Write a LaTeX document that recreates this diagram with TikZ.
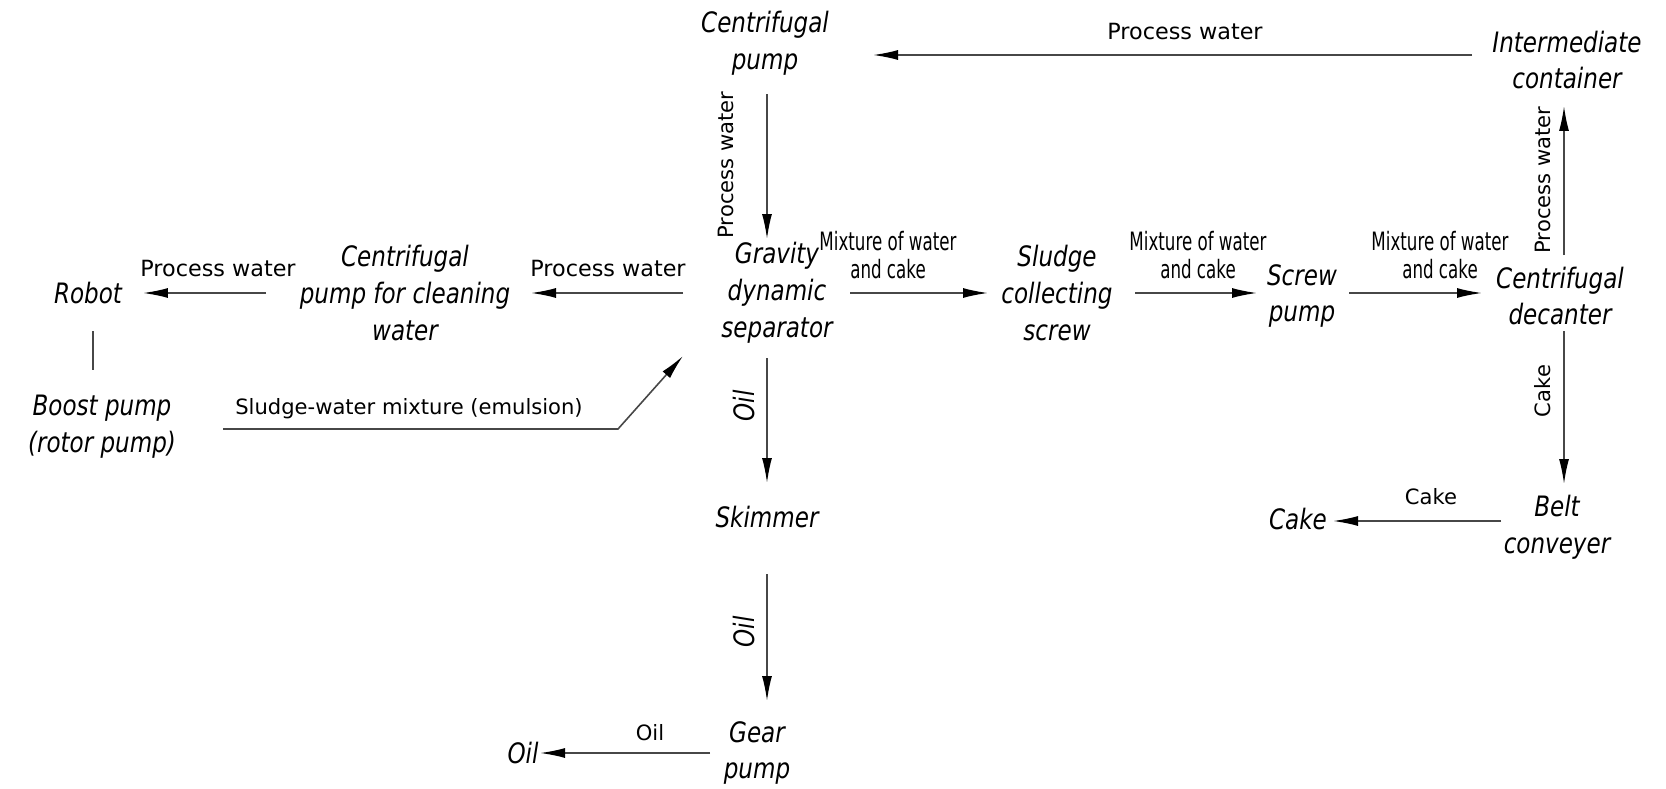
\documentclass[tikz,border=0pt]{standalone}
\usepackage{fontspec}
\setmainfont{DejaVu Sans}
\newfontfamily\unitfont{DejaVu Sans}[FakeStretch=0.82]
\newfontfamily\mixfont{DejaVu Sans}[FakeStretch=0.66]
\usetikzlibrary{arrows.meta,calc}

\begin{document}
\begin{tikzpicture}[x=0.02cm,y=-0.02cm,
  unit/.style={font=\unitfont\itshape\fontsize{16}{21}\selectfont, align=center, inner sep=0pt},
  lbl/.style={font=\fontsize{12}{16}\selectfont, align=center, inner sep=0pt},
  wlbl/.style={lbl, font=\fontsize{12.7}{16}\selectfont},
  mix/.style={lbl, font=\mixfont\fontsize{14.4}{15.5}\selectfont},
  flow/.style={draw=black!72, line width=0.9pt, -{Latex[length=5mm,width=2mm,color=black]}},
  link/.style={draw=black!72, line width=0.9pt}]
\useasboundingbox[fill=white] (0,0) rectangle (1666,788);

% units
\node[unit] (cpump)  at (765,43)   {Centrifugal\\pump};
\node[unit] (inter)  at (1567,60)  {Intermediate\\container};
\node[unit] (robot)  at (88,293)   {Robot};
\node[unit] (clean)  at (405,293)  {Centrifugal\\pump for cleaning\\water};
\node[unit] (grav)   at (777,293)  {Gravity\\dynamic\\separator};
\node[unit] (sludge) at (1057,293) {Sludge\\collecting\\screw};
\node[unit] (screw)  at (1302,296) {Screw\\pump};
\node[unit] (dec)    at (1560,296) {Centrifugal\\decanter};
\node[unit] (boost)  at (102,427)  {Boost pump\\(rotor pump)};
\node[unit] (skim)   at (767,517)  {Skimmer};
\node[unit] (belt)   at (1557,527) {Belt\\conveyer};
\node[unit] (cake)   at (1298,519) {Cake};
\node[unit] (gear)   at (757,753)  {Gear\\pump};
\node[unit] (oilout) at (523,753)  {Oil};

% water loop
\draw[flow] ($(inter)+(-95,-5)$) -- ($(cpump)+(108,12)$);
\draw[flow] ($(cpump)+(2,51)$) -- ($(grav)+(-10,-54)$);
\draw[flow] ($(grav)+(-94,0)$) -- ($(clean)+(126,0)$);
\draw[flow] ($(clean)+(-139,0)$) -- ($(robot)+(55,0)$);
\draw[link] ($(robot)+(5,38)$) -- ($(boost)+(-9,-57)$);
\draw[flow] ($(boost)+(121,2)$) -- ++(395,0) -- ($(grav)+(-94,63)$);
\draw[flow] ($(dec)+(4,-41)$) -- ($(inter)+(-3,46)$);

% sludge line
\draw[flow] ($(grav)+(73,0)$) -- ($(sludge)+(-69,0)$);
\draw[flow] ($(sludge)+(78,0)$) -- ($(screw)+(-45,-3)$);
\draw[flow] ($(screw)+(47,-3)$) -- ($(dec)+(-78,-3)$);
\draw[flow] ($(dec)+(4,35)$) -- ($(belt)+(7,-43)$);
\draw[flow] ($(belt)+(-56,-6)$) -- ($(cake)+(35,2)$);

% oil line
\draw[flow] ($(grav)+(-10,65)$) -- ($(skim)+(0,-34)$);
\draw[flow] ($(skim)+(0,57)$) -- ($(gear)+(10,-52)$);
\draw[flow] ($(gear)+(-47,0)$) -- ($(oilout)+(17,0)$);

% labels
\node[wlbl] (l1)  at (1185,32)  {Process water};
\node[lbl,rotate=90] (l2) at (726,165) {Process water};
\node[wlbl] (l3)  at (608,269)  {Process water};
\node[wlbl] (l4)  at (218,269)  {Process water};
\node[lbl] (l5)  at (409,409)  {Sludge-water mixture (emulsion)};
\node[mix] (l6)  at (888,255)  {Mixture of water\\and cake};
\node[mix] (l7)  at (1198,255) {Mixture of water\\and cake};
\node[mix] (l8)  at (1440,255) {Mixture of water\\and cake};
\node[lbl,rotate=90] (l9)  at (1543,180) {Process water};
\node[lbl,rotate=90] (l10) at (1543,391) {Cake};
\node[lbl] (l11) at (1431,497) {Cake};
\node[unit,rotate=90] (l12) at (744,406) {Oil};
\node[unit,rotate=90] (l13) at (744,632) {Oil};
\node[lbl] (l14) at (650,733)  {Oil};
\end{tikzpicture}
\end{document}
